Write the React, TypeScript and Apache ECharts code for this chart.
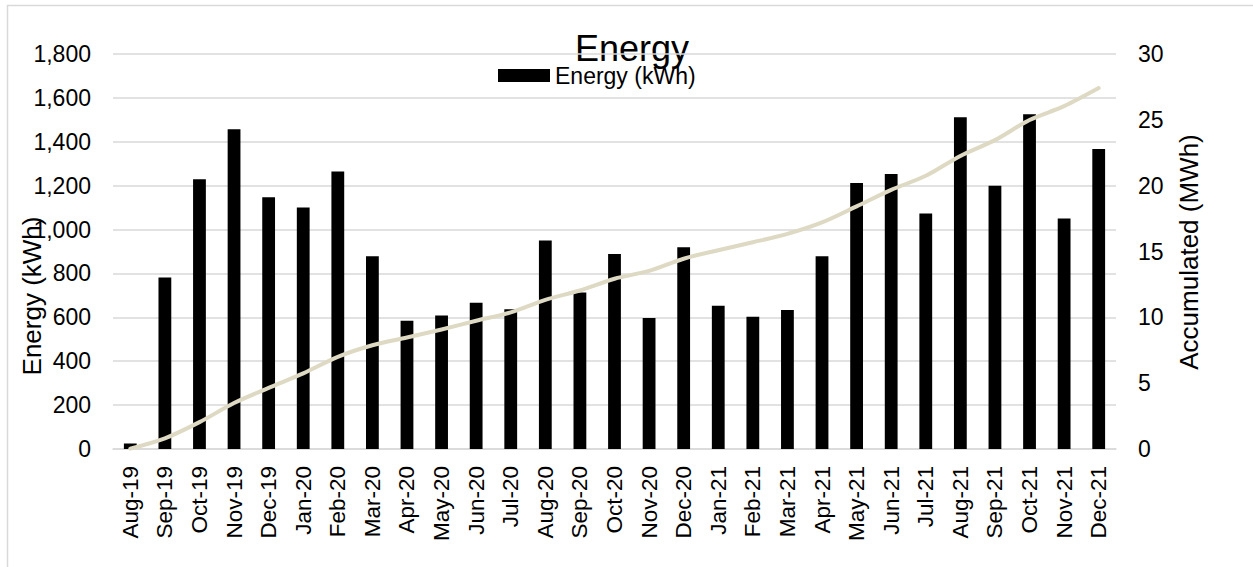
import React, { useEffect, useRef } from "react";
import * as echarts from "echarts";

// Monthly production, Aug 2019 – Dec 2021
const months = [
  "Aug-19", "Sep-19", "Oct-19", "Nov-19", "Dec-19",
  "Jan-20", "Feb-20", "Mar-20", "Apr-20", "May-20", "Jun-20",
  "Jul-20", "Aug-20", "Sep-20", "Oct-20", "Nov-20", "Dec-20",
  "Jan-21", "Feb-21", "Mar-21", "Apr-21", "May-21", "Jun-21",
  "Jul-21", "Aug-21", "Sep-21", "Oct-21", "Nov-21", "Dec-21",
];

// Energy per month (kWh)
const energyKWh = [
  25, 781, 1229, 1457, 1147,
  1101, 1264, 878, 585, 608, 667,
  637, 950, 713, 889, 597, 919,
  653, 603, 633, 878, 1212, 1253,
  1073, 1512, 1200, 1525, 1050, 1367,
];

// Running total (MWh)
const accumulatedMWh = [
  0.03, 0.81, 2.04, 3.49, 4.64,
  5.74, 7.0, 7.88, 8.47, 9.08, 9.74,
  10.38, 11.33, 12.04, 12.93, 13.53, 14.45,
  15.1, 15.7, 16.34, 17.21, 18.43, 19.68,
  20.75, 22.26, 23.46, 24.99, 26.04, 27.41,
];

const leftTicks = { min: 0, max: 1800, interval: 200 };
const rightTicks = { min: 0, max: 30, interval: 5 };

const FONT = "'Liberation Sans', Arial, sans-serif";
const GRID_COLOR = "#D9D9D9";
const LINE_COLOR = "#DDD9C3";

export default function App() {
  const ref = useRef<HTMLDivElement>(null);

  useEffect(() => {
    if (!ref.current) return;
    const chart = echarts.init(ref.current, undefined, { renderer: "svg" });

    chart.setOption({
      animation: false,
      backgroundColor: "#fff",
      textStyle: { fontFamily: FONT, color: "#000" },
      grid: { left: 113, right: 137, top: 54, bottom: 118, containLabel: false },
      legend: {
        data: ["Energy (kWh)"],
        left: 498,
        top: 64,
        padding: 0,
        icon: "rect",
        itemWidth: 52,
        itemHeight: 13,
        textStyle: { fontSize: 23, fontFamily: FONT, color: "#000" },
      },
      xAxis: {
        type: "category",
        data: months,
        axisLine: { show: true, lineStyle: { color: GRID_COLOR, width: 1.5 } },
        axisTick: { show: false },
        axisLabel: {
          rotate: 90,
          interval: 0,
          margin: 17,
          fontSize: 22.5,
          fontFamily: FONT,
          color: "#000",
        },
      },
      yAxis: [
        {
          type: "value",
          ...leftTicks,
          axisLine: { show: false },
          axisTick: { show: false },
          splitLine: { show: true, lineStyle: { color: GRID_COLOR, width: 1.5 } },
          axisLabel: {
            margin: 22,
            fontSize: 23,
            fontFamily: FONT,
            color: "#000",
            formatter: (v: number) => v.toLocaleString("en-US"),
          },
        },
        {
          type: "value",
          ...rightTicks,
          axisLine: { show: false },
          axisTick: { show: false },
          splitLine: { show: false },
          axisLabel: {
            margin: 22,
            fontSize: 23,
            fontFamily: FONT,
            color: "#000",
          },
        },
      ],
      series: [
        {
          name: "Energy (kWh)",
          type: "bar",
          data: energyKWh,
          barWidth: "37%",
          itemStyle: { color: "#000" },
          z: 2,
        },
        {
          name: "Accumulated (MWh)",
          type: "line",
          yAxisIndex: 1,
          data: accumulatedMWh,
          smooth: 0.3,
          showSymbol: false,
          lineStyle: { color: LINE_COLOR, width: 4, cap: "round", join: "round" },
          itemStyle: { color: LINE_COLOR },
          z: 3,
        },
      ],
      graphic: [
        {
          type: "rect",
          silent: true,
          shape: { x: 7.5, y: 5.5, width: 1260, height: 580 },
          style: { fill: "none", stroke: GRID_COLOR, lineWidth: 1.5 },
          z: -1,
        },
        {
          type: "text",
          x: 632,
          y: 48,
          style: {
            text: "Energy",
            fontSize: 36,
            fontFamily: FONT,
            fill: "#000",
            textAlign: "center",
            textVerticalAlign: "middle",
          },
        },
        {
          type: "text",
          x: 32,
          y: 296,
          rotation: Math.PI / 2,
          style: {
            text: "Energy (kWh)",
            fontSize: 26,
            fontFamily: FONT,
            fill: "#000",
            textAlign: "center",
            textVerticalAlign: "middle",
          },
        },
        {
          type: "text",
          x: 1189,
          y: 252,
          rotation: Math.PI / 2,
          style: {
            text: "Accumulated (MWh)",
            fontSize: 26,
            fontFamily: FONT,
            fill: "#000",
            textAlign: "center",
            textVerticalAlign: "middle",
          },
        },
      ],
    });

    return () => chart.dispose();
  }, []);

  return (
    <div
      ref={ref}
      style={{ position: "fixed", left: 0, top: 0, width: 1253, height: 567 }}
    />
  );
}
